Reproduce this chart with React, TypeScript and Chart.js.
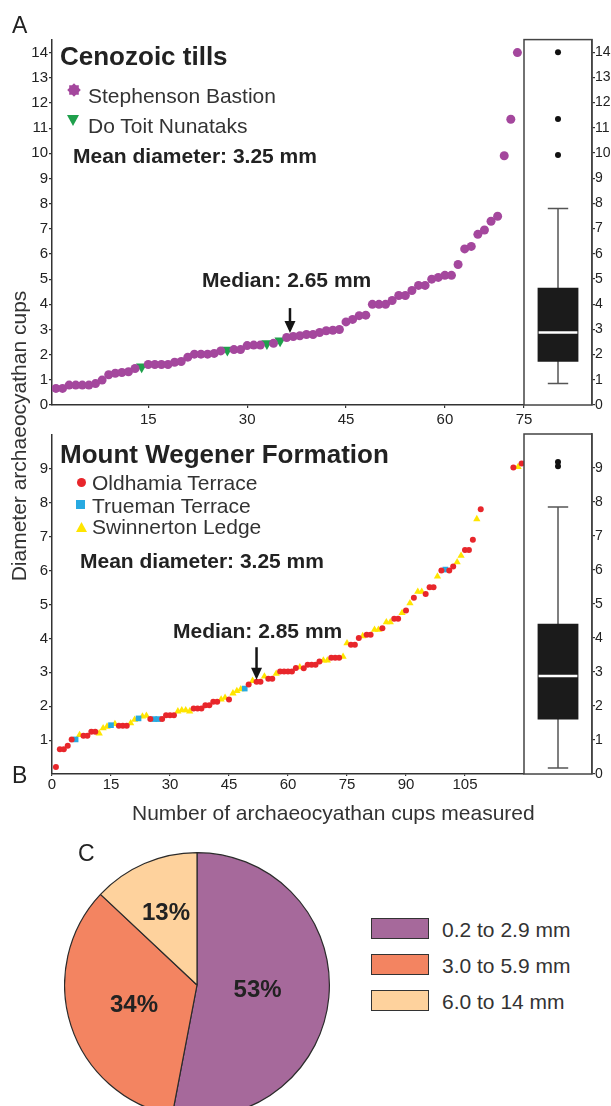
import React, { useEffect, useRef } from 'react';
import { Chart, registerables } from 'chart.js';

Chart.register(...registerables);

const FONT = "'Liberation Sans', Arial, Helvetica, sans-serif";

// ---------- Panel A: Cenozoic tills (values sorted by rank) ----------
const topValues = [
  0.66, 0.66, 0.79, 0.79, 0.79, 0.79, 0.85, 0.99, 1.2, 1.26,
  1.29, 1.32, 1.45, 1.52, 1.61, 1.61, 1.61, 1.61, 1.7, 1.73,
  1.9, 2.02, 2.02, 2.02, 2.05, 2.15, 2.18, 2.2, 2.2, 2.36,
  2.38, 2.38, 2.44, 2.45, 2.55, 2.68, 2.72, 2.75, 2.8, 2.8,
  2.88, 2.95, 2.97, 3.0, 3.3, 3.4, 3.55, 3.57, 4.0, 4.0,
  4.0, 4.15, 4.35, 4.35, 4.55, 4.75, 4.75, 5.0, 5.07, 5.15,
  5.15, 5.58, 6.2, 6.3, 6.78, 6.95, 7.3, 7.5, 9.9, 11.35, 14.0,
];
const topNunatakRanks = [14, 27, 33, 35];
const topXTickValues = [15, 30, 45, 60, 72];
const topXTickLabels = ['15', '30', '45', '60', '75'];
const topBoxStats = [0.85, 1.72, 2.88, 4.65, 7.8]; // min, q1, median, q3, max
const topBoxOutliers = [9.92, 11.35, 14.0];
const topMedianArrow = [36.5, 3.85, 2.86]; // x, from, to

// ---------- Panel B: Mount Wegener Formation ----------
const bottomValues = [
  0.21, 0.73, 0.73, 0.83, 1.02, 1.02, 1.15, 1.13, 1.13, 1.25,
  1.25, 1.2, 1.35, 1.4, 1.44, 1.48, 1.42, 1.42, 1.42, 1.5,
  1.6, 1.64, 1.7, 1.72, 1.62, 1.62, 1.62, 1.62, 1.73, 1.73,
  1.73, 1.85, 1.88, 1.88, 1.85, 1.93, 1.93, 1.93, 2.03, 2.03,
  2.13, 2.13, 2.2, 2.25, 2.2, 2.38, 2.45, 2.5, 2.52, 2.64,
  2.75, 2.72, 2.72, 2.88, 2.81, 2.81, 2.96, 3.02, 3.02, 3.02,
  3.02, 3.13, 3.15, 3.12, 3.22, 3.22, 3.22, 3.32, 3.35, 3.35,
  3.43, 3.43, 3.43, 3.46, 3.86, 3.81, 3.81, 4.01, 4.07, 4.11,
  4.11, 4.26, 4.26, 4.3, 4.48, 4.48, 4.58, 4.58, 4.75, 4.82,
  5.04, 5.2, 5.38, 5.38, 5.31, 5.51, 5.51, 5.83, 6.0, 6.03,
  6.0, 6.12, 6.25, 6.44, 6.61, 6.61, 6.91, 7.52, 7.81,
];
const bottomSites = (
  'OOOOOTSOOO' + 'OSSSTSOOOS' + 'STSSOTTOOO' + 'OSSSSOOOOO' + 'OOSSOSSSTO' +
  'SOOSOOSOOO' + 'OOSOOOOOSS' + 'OOOSSOOOSO' + 'OSSOSSOOSO' + 'SOSSOOOSOT' + 'OOSSOOOSO'
).split('');
const bottomOutlierX = [117.3, 118.5, 119.4];
const bottomOutlierY = [9.04, 9.06, 9.16];
const bottomOutlierSites = ['O', 'S', 'O'];
const bottomBoxStats = [0.18, 1.6, 2.88, 4.42, 7.85];
const bottomBoxOutliers = [9.05, 9.18];
const bottomMedianArrow = [52, 3.74, 2.78];

// ---------- Panel C: size classes ----------
const pieLabels = ['0.2 to 2.9 mm', '3.0 to 5.9 mm', '6.0 to 14 mm'];
const pieValues = [53, 34, 13];

const PURPLE = '#a4479d';
const GREEN = '#1fa04c';
const RED = '#e8262b';
const BLUE = '#27a9e1';
const YELLOW = '#ffe500';
const PIE_COLORS = ['#a6699b', '#f38461', '#fed29d'];
const AXIS = '#333';

const medianArrowPlugin = {
  id: 'medianArrow',
  afterDatasetsDraw(chart: any, _a: any, opts: any) {
    const { ctx, scales } = chart;
    const [xv, fromV, toV] = opts.arrow;
    const px = scales.x.getPixelForValue(xv);
    const y0 = scales.y.getPixelForValue(fromV);
    const y1 = scales.y.getPixelForValue(toV);
    const headH = 12;
    const headW = 11;
    ctx.save();
    ctx.strokeStyle = '#151515';
    ctx.fillStyle = '#151515';
    ctx.lineWidth = 2.5;
    ctx.beginPath();
    ctx.moveTo(px, y0);
    ctx.lineTo(px, y1 - headH + 1);
    ctx.stroke();
    ctx.beginPath();
    ctx.moveTo(px - headW / 2, y1 - headH);
    ctx.lineTo(px + headW / 2, y1 - headH);
    ctx.lineTo(px, y1);
    ctx.closePath();
    ctx.fill();
    ctx.restore();
  },
};

const boxPlotPlugin = {
  id: 'boxPlot',
  beforeDatasetsDraw(chart: any, _a: any, opts: any) {
    const { ctx, chartArea, scales } = chart;
    const s = opts.stats;
    const bar = chart.getDatasetMeta(0).data[0];
    if (!bar) return;
    const cx = bar.x;
    const cap = ((chartArea.right - chartArea.left) * 0.3) / 2;
    const y = (v: number) => scales.y.getPixelForValue(v);
    ctx.save();
    ctx.strokeStyle = '#555';
    ctx.lineWidth = 1.5;
    ctx.beginPath();
    ctx.moveTo(cx, y(s[0]));
    ctx.lineTo(cx, y(s[4]));
    ctx.moveTo(cx - cap, y(s[0]));
    ctx.lineTo(cx + cap, y(s[0]));
    ctx.moveTo(cx - cap, y(s[4]));
    ctx.lineTo(cx + cap, y(s[4]));
    ctx.stroke();
    ctx.restore();
  },
  afterDatasetsDraw(chart: any, _a: any, opts: any) {
    const { ctx, scales } = chart;
    const bar = chart.getDatasetMeta(0).data[0];
    if (!bar) return;
    const { x, width } = bar.getProps(['x', 'width'], true);
    const ym = scales.y.getPixelForValue(opts.stats[2]);
    ctx.save();
    ctx.strokeStyle = '#ffffff';
    ctx.lineWidth = 2.5;
    ctx.beginPath();
    ctx.moveTo(x - width / 2 + 1, ym);
    ctx.lineTo(x + width / 2 - 1, ym);
    ctx.stroke();
    ctx.restore();
  },
  afterDraw(chart: any) {
    const { ctx, chartArea } = chart;
    ctx.save();
    ctx.strokeStyle = '#444';
    ctx.lineWidth = 1.5;
    ctx.strokeRect(chartArea.left, chartArea.top, chartArea.right - chartArea.left, chartArea.bottom - chartArea.top);
    ctx.restore();
  },
};

const sliceLabelPlugin = {
  id: 'sliceLabels',
  afterDatasetsDraw(chart: any, _a: any, opts: any) {
    const { ctx } = chart;
    const meta = chart.getDatasetMeta(0);
    ctx.save();
    ctx.font = `bold 24px ${FONT}`;
    ctx.fillStyle = '#222';
    ctx.textAlign = 'center';
    ctx.textBaseline = 'middle';
    meta.data.forEach((arc: any, i: number) => {
      const { x, y, startAngle, endAngle, outerRadius } = arc.getProps(
        ['x', 'y', 'startAngle', 'endAngle', 'outerRadius'],
        true
      );
      const mid = (startAngle + endAngle) / 2;
      const r = outerRadius * opts.radii[i];
      ctx.fillText(`${pieValues[i]}%`, x + Math.cos(mid) * r, y + Math.sin(mid) * r);
    });
    ctx.restore();
  },
};

function tickFont(size: number) {
  return { size, family: FONT };
}

function topScatterConfig(): any {
  const purple: any[] = [];
  const green: any[] = [];
  topValues.forEach((v, i) => {
    const p = { x: i + 1, y: v };
    if (topNunatakRanks.includes(i + 1)) green.push(p);
    else purple.push(p);
  });
  return {
    type: 'scatter',
    data: {
      datasets: [
        { label: 'Stephenson Bastion', data: purple, pointStyle: 'circle', pointRadius: 4.5, pointBackgroundColor: PURPLE, pointBorderWidth: 0 },
        { label: 'Do Toit Nunataks', data: green, pointStyle: 'triangle', pointRotation: 180, pointRadius: 6.5, pointBackgroundColor: GREEN, pointBorderWidth: 0 },
      ],
    },
    options: {
      animation: false,
      responsive: true,
      maintainAspectRatio: false,
      layout: { padding: { top: 9.6, right: 21, bottom: 0, left: 0 } },
      plugins: { legend: { display: false }, tooltip: { enabled: false }, medianArrow: { arrow: topMedianArrow } },
      scales: {
        x: {
          type: 'linear',
          min: 0.4,
          max: 72,
          afterBuildTicks: (s: any) => {
            s.ticks = topXTickValues.map((v) => ({ value: v }));
          },
          afterFit: (s: any) => {
            s.height = 30;
          },
          ticks: {
            autoSkip: false,
            maxRotation: 0,
            font: tickFont(15),
            color: '#222',
            padding: 3,
            callback: (_v: any, i: number) => topXTickLabels[i],
          },
          grid: { drawOnChartArea: false, tickLength: 3, color: AXIS, lineWidth: 1.2 },
          border: { color: AXIS, width: 1.5 },
        },
        y: {
          min: 0,
          max: 14.5,
          afterFit: (s: any) => {
            s.width = 52;
          },
          ticks: { stepSize: 1, includeBounds: false, font: tickFont(15), color: '#222', padding: 1 },
          grid: { drawOnChartArea: false, tickLength: 3, color: AXIS, lineWidth: 1.2 },
          border: { color: AXIS, width: 1.5 },
        },
      },
    },
    plugins: [medianArrowPlugin],
  };
}

function bottomScatterConfig(): any {
  const groups: Record<string, any[]> = { O: [], T: [], S: [] };
  bottomValues.forEach((v, i) => groups[bottomSites[i]].push({ x: i + 1, y: v }));
  bottomOutlierX.forEach((x, i) => groups[bottomOutlierSites[i]].push({ x, y: bottomOutlierY[i] }));
  return {
    type: 'scatter',
    data: {
      datasets: [
        { label: 'Oldhamia Terrace', data: groups.O, pointStyle: 'circle', pointRadius: 3, pointBackgroundColor: RED, pointBorderWidth: 0 },
        { label: 'Trueman Terrace', data: groups.T, pointStyle: 'rect', pointRadius: 4, pointBackgroundColor: BLUE, pointBorderWidth: 0 },
        { label: 'Swinnerton Ledge', data: groups.S, pointStyle: 'triangle', pointRadius: 4.2, pointBackgroundColor: YELLOW, pointBorderWidth: 0 },
      ],
    },
    options: {
      animation: false,
      responsive: true,
      maintainAspectRatio: false,
      layout: { padding: { top: 9, right: 21, bottom: 0, left: 0 } },
      plugins: { legend: { display: false }, tooltip: { enabled: false }, medianArrow: { arrow: bottomMedianArrow } },
      scales: {
        x: {
          type: 'linear',
          min: 0,
          max: 120,
          afterBuildTicks: (s: any) => {
            s.ticks = s.ticks.filter((t: any) => t.value <= 105);
          },
          afterFit: (s: any) => {
            s.height = 26;
          },
          ticks: { stepSize: 15, autoSkip: false, maxRotation: 0, font: tickFont(15), color: '#222', padding: 0 },
          grid: { drawOnChartArea: false, tickLength: 2, color: AXIS, lineWidth: 1.2 },
          border: { color: AXIS, width: 1.5 },
        },
        y: {
          min: 0,
          max: 10,
          afterBuildTicks: (s: any) => {
            s.ticks = s.ticks.filter((t: any) => t.value >= 1 && t.value <= 9);
          },
          afterFit: (s: any) => {
            s.width = 52;
          },
          ticks: { stepSize: 1, font: tickFont(15), color: '#222', padding: 1 },
          grid: { drawOnChartArea: false, tickLength: 3, color: AXIS, lineWidth: 1.2 },
          border: { color: AXIS, width: 1.5 },
        },
      },
    },
    plugins: [medianArrowPlugin],
  };
}

function boxConfig(stats: number[], outliers: number[], yMax: number, lastTick: number, padTop: number, padBottom: number): any {
  return {
    type: 'bar',
    data: {
      labels: ['box'],
      datasets: [
        { type: 'bar', data: [[stats[1], stats[3]]], backgroundColor: '#1b1b1b', borderWidth: 0, barPercentage: 0.6, categoryPercentage: 1 },
        {
          type: 'line',
          data: outliers.map((v) => ({ x: 'box', y: v })),
          showLine: false,
          pointRadius: 3,
          pointBackgroundColor: '#111',
          pointBorderWidth: 0,
        },
      ],
    },
    options: {
      animation: false,
      responsive: true,
      maintainAspectRatio: false,
      layout: { padding: { top: padTop, right: 0, bottom: padBottom, left: 24 } },
      plugins: { legend: { display: false }, tooltip: { enabled: false }, boxPlot: { stats } },
      scales: {
        x: { display: false },
        y: {
          position: 'right',
          min: 0,
          max: yMax,
          afterBuildTicks: (s: any) => {
            s.ticks = s.ticks.filter((t: any) => t.value <= lastTick);
          },
          afterFit: (s: any) => {
            s.width = 19;
          },
          ticks: { stepSize: 1, includeBounds: false, font: tickFont(14), color: '#222', padding: 0 },
          grid: { drawOnChartArea: false, tickLength: 3, color: AXIS, lineWidth: 1.2 },
          border: { color: '#444', width: 1.5 },
        },
      },
    },
    plugins: [boxPlotPlugin],
  };
}

function pieConfig(): any {
  return {
    type: 'pie',
    data: {
      labels: pieLabels,
      datasets: [{ data: pieValues, backgroundColor: PIE_COLORS, borderColor: '#2b2b2b', borderWidth: 1.2 }],
    },
    options: {
      animation: false,
      responsive: true,
      maintainAspectRatio: false,
      layout: { padding: 0 },
      plugins: { legend: { display: false }, tooltip: { enabled: false }, sliceLabels: { radii: [0.46, 0.5, 0.59] } },
    },
    plugins: [sliceLabelPlugin],
  };
}

const Txt = ({ x, y, size, bold, color = '#222', children }: any) => (
  <div
    style={{
      position: 'absolute',
      left: x,
      top: y,
      transform: 'translateY(-50%)',
      fontSize: size,
      fontWeight: bold ? 700 : 400,
      lineHeight: 1,
      whiteSpace: 'nowrap',
      color,
      fontFamily: FONT,
    }}
  >
    {children}
  </div>
);

const Marker = ({ cx, cy, size, children }: any) => (
  <svg
    width={size}
    height={size}
    viewBox={`0 0 ${size} ${size}`}
    style={{ position: 'absolute', left: cx - size / 2, top: cy - size / 2, overflow: 'visible' }}
  >
    {children}
  </svg>
);

function burstPoints(c: number, ro: number, ri: number, n: number) {
  const pts: string[] = [];
  for (let i = 0; i < n * 2; i++) {
    const a = (Math.PI * i) / n;
    const r = i % 2 === 0 ? ro : ri;
    pts.push(`${(c + r * Math.sin(a)).toFixed(2)},${(c - r * Math.cos(a)).toFixed(2)}`);
  }
  return pts.join(' ');
}

export default function App() {
  const aRef = useRef<HTMLCanvasElement>(null);
  const aBoxRef = useRef<HTMLCanvasElement>(null);
  const bRef = useRef<HTMLCanvasElement>(null);
  const bBoxRef = useRef<HTMLCanvasElement>(null);
  const pieRef = useRef<HTMLCanvasElement>(null);

  useEffect(() => {
    document.body.style.margin = '0';
    document.body.style.overflow = 'hidden';
    document.documentElement.style.overflow = 'hidden';
    Chart.defaults.font.family = FONT;
    Chart.defaults.color = '#222';
    const charts = [
      new Chart(aRef.current as any, topScatterConfig()),
      new Chart(aBoxRef.current as any, boxConfig(topBoxStats, topBoxOutliers, 14.5, 14, 9.6, 30)),
      new Chart(bRef.current as any, bottomScatterConfig()),
      new Chart(bBoxRef.current as any, boxConfig(bottomBoxStats, bottomBoxOutliers, 10, 9, 9, 26)),
      new Chart(pieRef.current as any, pieConfig()),
    ];
    return () => charts.forEach((c) => c.destroy());
  }, []);

  const abs = (left: number, top: number, width: number, height: number): React.CSSProperties => ({
    position: 'absolute',
    left,
    top,
    width,
    height,
  });

  return (
    <div style={{ position: 'absolute', left: 0, top: 0, width: 611, height: 1106, overflow: 'hidden', background: '#fff', fontFamily: FONT }}>
      <div style={abs(0, 30, 545, 405)}>
        <canvas ref={aRef} />
      </div>
      <div style={abs(500, 30, 111, 405)}>
        <canvas ref={aBoxRef} />
      </div>
      <div style={abs(0, 425, 545, 375)}>
        <canvas ref={bRef} />
      </div>
      <div style={abs(500, 425, 111, 375)}>
        <canvas ref={bBoxRef} />
      </div>
      <div style={abs(63.5, 852, 266, 266)}>
        <canvas ref={pieRef} />
      </div>

      {/* panel letters */}
      <Txt x={12} y={25} size={23}>A</Txt>
      <Txt x={12} y={775} size={23}>B</Txt>
      <Txt x={78} y={853} size={23}>C</Txt>

      {/* Y axis title */}
      <div
        style={{
          position: 'absolute',
          left: 18,
          top: 436,
          transform: 'translate(-50%, -50%) rotate(-90deg)',
          whiteSpace: 'nowrap',
          fontSize: 21,
          lineHeight: 1,
          color: '#333',
          fontFamily: FONT,
        }}
      >
        Diameter archaeocyathan cups
      </div>

      {/* X axis title */}
      <Txt x={132} y={812} size={21} color="#333">Number of archaeocyathan cups measured</Txt>

      {/* Panel A annotations */}
      <Txt x={60} y={56} size={26} bold>Cenozoic tills</Txt>
      <Marker cx={73.5} cy={90} size={14}>
        <polygon points={burstPoints(7, 6.8, 5.2, 8)} fill={PURPLE} />
      </Marker>
      <Txt x={88} y={94.5} size={21} color="#333">Stephenson Bastion</Txt>
      <Marker cx={73} cy={121} size={12}>
        <polygon points="0,0 12,0 6,11" fill={GREEN} />
      </Marker>
      <Txt x={88} y={124.5} size={21} color="#333">Do Toit Nunataks</Txt>
      <Txt x={73} y={155} size={21} bold>Mean diameter: 3.25 mm</Txt>
      <Txt x={202} y={279} size={21} bold>Median: 2.65 mm</Txt>

      {/* Panel B annotations */}
      <Txt x={60} y={453.5} size={26} bold>Mount Wegener Formation</Txt>
      <Marker cx={81} cy={482} size={9}>
        <circle cx={4.5} cy={4.5} r={4.5} fill={RED} />
      </Marker>
      <Txt x={92} y={482} size={21} color="#333">Oldhamia Terrace</Txt>
      <Marker cx={80.5} cy={504} size={9}>
        <rect x={0} y={0} width={9} height={9} fill={BLUE} />
      </Marker>
      <Txt x={92} y={504.5} size={21} color="#333">Trueman Terrace</Txt>
      <Marker cx={81} cy={527} size={11}>
        <polygon points="5.5,0 11,10 0,10" fill={YELLOW} />
      </Marker>
      <Txt x={92} y={526} size={21} color="#333">Swinnerton Ledge</Txt>
      <Txt x={80} y={559.5} size={21} bold>Mean diameter: 3.25 mm</Txt>
      <Txt x={173} y={629.5} size={21} bold>Median: 2.85 mm</Txt>

      {/* Panel C legend */}
      {pieLabels.map((lab, i) => (
        <React.Fragment key={lab}>
          <div
            style={{
              position: 'absolute',
              left: 371,
              top: 918 + i * 36,
              width: 58,
              height: 21,
              boxSizing: 'border-box',
              border: '1.5px solid #333',
              background: PIE_COLORS[i],
            }}
          />
          <Txt x={442} y={929 + i * 36} size={21} color="#333">{lab}</Txt>
        </React.Fragment>
      ))}
    </div>
  );
}
